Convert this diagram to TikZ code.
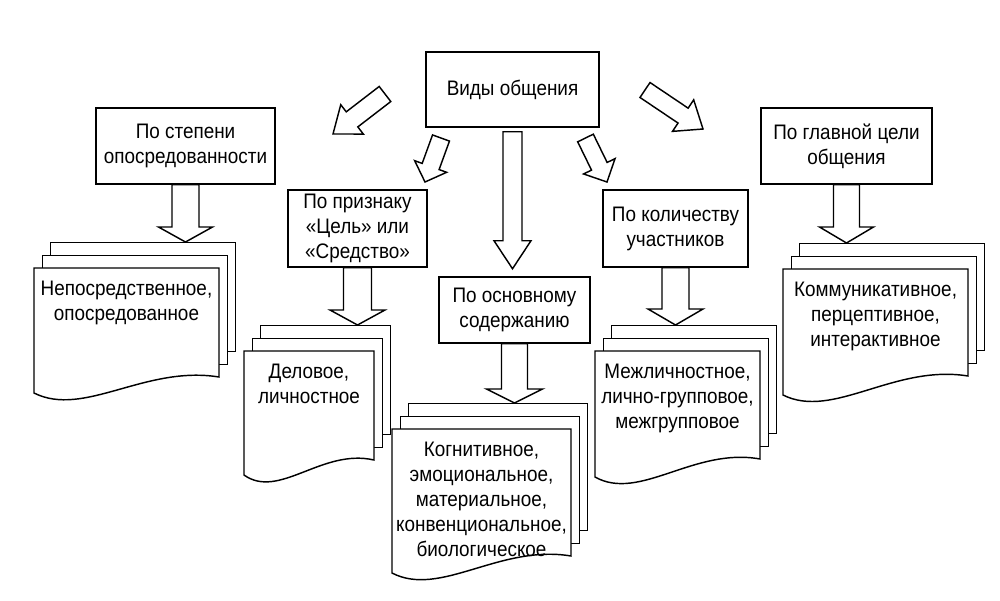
\documentclass[tikz,border=0pt]{standalone}
\usepackage{fontspec}
\setmainfont{Liberation Sans}[FakeStretch=0.9]
\usetikzlibrary{calc}
\tikzset{
  x=1pt, y=-1pt,
  lw/.style={line width=1.45pt},
  box/.style={draw, lw, fill=white, align=center, inner sep=0pt,
              font=\fontsize{21}{25}\selectfont},
  sheet/.style={draw, lw, fill=white, inner sep=0pt},
  docline/.style={draw, lw, fill=white, line join=miter},
  doctext/.style={align=center, inner sep=0pt, font=\fontsize{21}{25}\selectfont},
  blockarr/.style={draw, lw, fill=white, line join=miter},
}
% #1 tail, #2 tip, #3 shaft half width, #4 head half width, #5 head length
\newcommand\blockarrow[5]{%
  \coordinate (bb) at ($(#2)!#5pt!(#1)$);
  \draw[blockarr] ($(#1)!#3pt!90:(#2)$) -- ($(bb)!#3pt!-90:(#1)$)
     -- ($(bb)!#4pt!-90:(#1)$) -- (#2) -- ($(bb)!#4pt!90:(#1)$)
     -- ($(bb)!#3pt!90:(#1)$) -- ($(#1)!#3pt!-90:(#2)$) -- cycle;
}
% #1 name, #2 x1, #3 y1 (front top-left), #4 width, #5 right height, #6 left height, #7 text
\newcommand\docstack[7]{%
  \node[sheet, minimum width=#4pt, minimum height=#5pt, anchor=north west]
     (#1b) at (#2+16,#3-26) {};
  \node[sheet, minimum width=#4pt, minimum height=#5pt, anchor=north west]
     (#1m) at (#2+8,#3-13) {};
  \draw[docline] (#2,#3) -- (#2+#4,#3) -- (#2+#4,#3+#5)
     .. controls (#2+0.6*#4,#3+#5-12) and (#2+0.27*#4,#3+#6+25) .. (#2,#3+#6) -- cycle;
  \node[doctext, anchor=north] (#1) at (#2+#4/2,#3+13) {#7};
}
\begin{document}
\begin{tikzpicture}
\path[fill=white] (0,0) rectangle (1000,600);
\useasboundingbox (0,0) rectangle (1000,600);

% headers
\node[box, minimum width=173pt, minimum height=75pt] (k0) at (512.5,89.5) {Виды общения};
\node[box, minimum width=179pt, minimum height=76pt] (k1) at (185.5,146) {По степени\\опосредованности};
\node[box, minimum width=139pt, minimum height=77pt] (k2) at (357.5,228.5) {По признаку\\«Цель» или\\«Средство»};
\node[box, minimum width=151pt, minimum height=66pt] (k3) at (514.5,310) {По основному\\содержанию};
\node[box, minimum width=145pt, minimum height=77pt] (k4) at (675.5,228.5) {По количеству\\участников};
\node[box, minimum width=171pt, minimum height=76pt] (k5) at (846.5,146) {По главной цели\\общения};

% document stacks
\docstack{d1}{34}{268}{185}{109}{125}{Непосредственное,\\опосредованное}
\docstack{d2}{244}{351}{130}{109}{124}{Деловое,\\личностное}
\docstack{d3}{392}{429}{179}{127}{144}{Когнитивное,\\эмоциональное,\\материальное,\\конвенциональное,\\биологическое}
\docstack{d4}{595}{351}{165}{108}{126}{Межличностное,\\лично-групповое,\\межгрупповое}
\docstack{d5}{783}{269}{185}{107}{126}{Коммуникативное,\\перцептивное,\\интерактивное}

% diagonal arrows from the top box
\coordinate (a1t) at (385,94);   \coordinate (a1p) at (333,134);
\coordinate (a2t) at (441,138);  \coordinate (a2p) at (425,182);
\coordinate (a4t) at (585.5,138);\coordinate (a4p) at (607,182);
\coordinate (a5t) at (645,90);   \coordinate (a5p) at (703,129);
\blockarrow{a1t}{a1p}{9.5}{18.5}{24}
\blockarrow{a2t}{a2p}{9}{17}{16.5}
\blockarrow{a4t}{a4p}{8.7}{17.5}{17.5}
\blockarrow{a5t}{a5p}{9}{19}{24}

% central arrow
\coordinate (a3t) at ($(k0.south)+(0,4)$);
\coordinate (a3p) at ($(k0.south)+(0,141)$);
\blockarrow{a3t}{a3p}{9.5}{18.5}{28}

% vertical arrows from the headers to the stacks
\blockarrow{k1.south}{k1.south |- d1b.north}{13.5}{27}{15}
\blockarrow{k2.south}{k2.south |- d2b.north}{14}{27.5}{15}
\blockarrow{k3.south}{k3.south |- d3b.north}{13}{28}{14}
\blockarrow{k4.south}{k4.south |- d4b.north}{13.5}{27.5}{16}
\blockarrow{k5.south}{k5.south |- d5b.north}{13}{27}{16}
\end{tikzpicture}
\end{document}
